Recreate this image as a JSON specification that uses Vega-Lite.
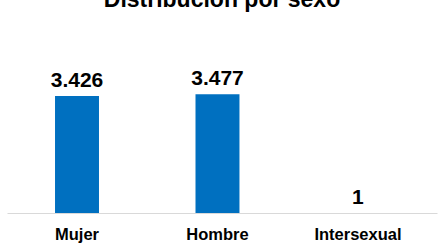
{
  "$schema": "https://vega.github.io/schema/vega-lite/v6.json",
  "autosize": {"type": "none"},
  "width": 430,
  "height": 193,
  "padding": {"left": 7, "top": 20, "right": 4, "bottom": 30},
  "background": "white",
  "title": {
    "text": "Distribución por sexo",
    "font": "Liberation Sans",
    "fontSize": 23,
    "fontWeight": "bold",
    "color": "#000000",
    "anchor": "middle",
    "baseline": "alphabetic",
    "offset": 5,
    "dy": 15
  },
  "config": {
    "view": {"stroke": null},
    "font": "Liberation Sans"
  },
  "data": {
    "values": [
      {"sexo": "Mujer", "valor": 3426, "etiqueta": "3.426"},
      {"sexo": "Hombre", "valor": 3477, "etiqueta": "3.477"},
      {"sexo": "Intersexual", "valor": 1, "etiqueta": "1"}
    ]
  },
  "encoding": {
    "x": {
      "field": "sexo",
      "type": "nominal",
      "sort": null,
      "scale": {"paddingInner": 0.687, "paddingOuter": 0.374, "align": 0.457},
      "axis": {
        "title": null,
        "ticks": false,
        "tickSize": 0,
        "grid": false,
        "domain": true,
        "domainColor": "#d9d9d9",
        "domainWidth": 1,
        "labelAngle": 0,
        "labelFont": "Liberation Sans",
        "labelFontSize": 16.5,
        "labelFontWeight": "bold",
        "labelColor": "#000000",
        "labelBaseline": "alphabetic",
        "labelPadding": 26
      }
    },
    "y": {
      "field": "valor",
      "type": "quantitative",
      "scale": {"domain": [0, 5653], "nice": false},
      "axis": null
    }
  },
  "layer": [
    {"mark": {"type": "bar", "color": "#0070C0"}},
    {
      "mark": {
        "type": "text",
        "font": "Liberation Sans",
        "fontSize": 21,
        "fontWeight": "bold",
        "color": "#000000",
        "baseline": "alphabetic",
        "dy": -9
      },
      "encoding": {"text": {"field": "etiqueta"}}
    }
  ]
}
